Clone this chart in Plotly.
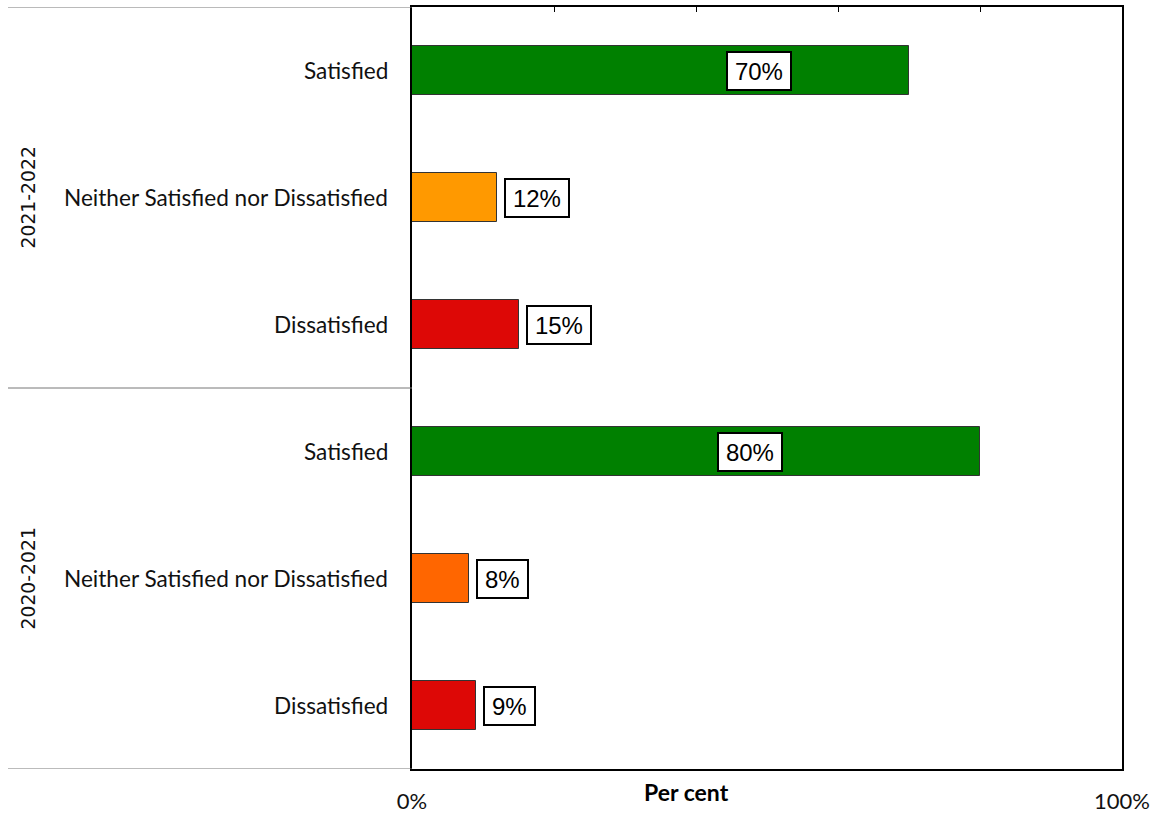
import plotly.graph_objects as go

# Survey satisfaction by year
years = ["2021-2022", "2020-2021"]
responses = ["Satisfied", "Neither Satisfied nor Dissatisfied", "Dissatisfied"]
values_2122 = [70, 12, 15]
values_2021 = [80, 8, 9]
colors_2122 = ["#008000", "#FF9900", "#DD0806"]
colors_2021 = ["#008000", "#FF6600", "#DD0806"]

values = values_2122 + values_2021
colors = colors_2122 + colors_2021
labels = responses + responses
rows = list(range(len(values)))

fig = go.Figure()
fig.add_trace(go.Bar(
    x=values, y=rows, orientation="h", width=0.39,
    marker=dict(color=colors, line=dict(color="#333333", width=1)),
    hoverinfo="x", showlegend=False,
))
# invisible trace so the top axis carries its tick marks
fig.add_trace(go.Scatter(x=[0, 100], y=[0, 0], xaxis="x2", mode="markers",
                         marker=dict(opacity=0), hoverinfo="skip", showlegend=False))

cat_font = dict(family="Lato, Open Sans, sans-serif", size=22.6, color="#111111")
annotations = []
for r, lab in zip(rows, labels):
    annotations.append(dict(x=0, xref="paper", y=r, yref="y", text=lab, showarrow=False,
                            xanchor="right", yanchor="middle", xshift=-22, font=cat_font))

# value labels: large bars hold the label inside, short bars show it beside
for r, v in zip(rows, values):
    txt = f"{v}%"
    box_w = (len(txt) - 1) * 13.3 + 21.3 + 14
    if v >= 50:
        pos = dict(x=(v * 0.6 + 6.9) if v < 75 else v * 0.595, xanchor="center", xshift=0)
    else:
        pos = dict(x=v, xanchor="left", xshift=7)
    annotations.append(dict(y=r, yref="y", xref="x", text=txt, showarrow=False,
                            yanchor="middle", bgcolor="white", bordercolor="black",
                            borderwidth=2, borderpad=0, width=box_w, height=36,
                            font=dict(family="Liberation Sans, Arial, sans-serif", size=24, color="black"),
                            **pos))

# group titles
for i, yr in enumerate(years):
    annotations.append(dict(x=0, xref="paper", xshift=-384, y=i * 3 + 1, yref="y", text=yr,
                            showarrow=False, textangle=-90, xanchor="center", yanchor="middle",
                            font=dict(family="DejaVu Sans, sans-serif", size=18.8, color="#111111")))

annotations.append(dict(x=0.387, xref="paper", y=0, yref="paper", yshift=-23, text="<b>Per cent</b>",
                        showarrow=False, xanchor="center", yanchor="middle",
                        font=dict(family="Lato, Open Sans, sans-serif", size=23, color="black")))

shapes = []
for yb in [-0.5, 2.5, 5.5]:
    shapes.append(dict(type="line", xref="paper", x0=-0.569, x1=0, yref="y", y0=yb, y1=yb,
                       line=dict(color="#777777", width=1)))

fig.update_layout(
    width=1156, height=816,
    margin=dict(l=412, r=34, t=7, b=47, autoexpand=False),
    plot_bgcolor="white", paper_bgcolor="white",
    bargap=0,
    xaxis=dict(range=[0, 100], tickvals=[0, 100], ticktext=["0%", "100%"], ticks="",
               showgrid=False, zeroline=False, showline=True, linecolor="black", linewidth=2,
               mirror=True, ticklabelstandoff=12, automargin=False,
               tickfont=dict(family="Lato, Open Sans, sans-serif", size=22, color="#111111")),
    xaxis2=dict(range=[0, 100], overlaying="x", side="top", tickvals=[20, 40, 60, 80],
                ticks="inside", ticklen=5, tickcolor="black", tickwidth=1, automargin=False,
                showticklabels=False, showgrid=False, zeroline=False, showline=False),
    yaxis=dict(range=[5.5, -0.5], showticklabels=False, ticks="", showgrid=False, zeroline=False,
               showline=True, linecolor="black", linewidth=2, mirror=True, automargin=False),
    annotations=annotations, shapes=shapes,
)

fig.write_html("out.html")
